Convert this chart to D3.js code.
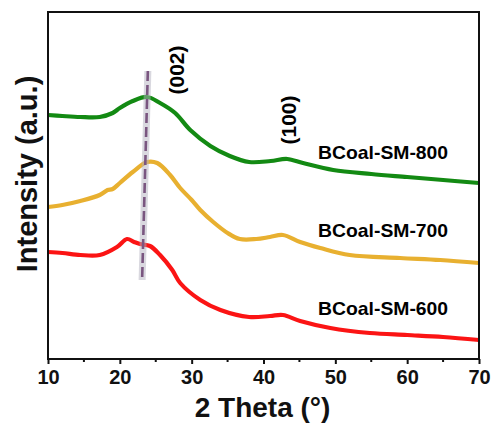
<!DOCTYPE html>
<html>
<head>
<meta charset="utf-8">
<script src="https://cdn.jsdelivr.net/npm/d3@7"></script>
<style>
  body { margin: 0; background: #fff; }
  svg { display: block; font-family: Arial, 'Liberation Sans', sans-serif; }
</style>
</head>
<body>
<svg id="chart" width="493" height="423"></svg>
<script>
// 2 theta positions and intensities (a.u.)
const theta800 = [10, 12, 14.5, 17.2, 19, 20, 21.8, 23.8, 25.6, 27.7, 29.8, 32.6, 35.3, 38, 41, 43.3, 45.5, 49.7, 55, 60, 65, 70]
const int800 = [244, 243, 242, 242, 246, 251, 258, 262, 256, 246, 229, 213, 203, 197, 198, 200, 196, 189, 185, 182, 179, 176]

const theta700 = [10, 12, 14.5, 17.2, 18.3, 19, 20, 21.8, 23.8, 25.2, 27, 28.4, 30, 31.2, 33, 35, 36.7, 39, 40.9, 42.7, 45.1, 47.9, 52, 59, 64.6, 70]
const int700 = [152, 154, 158, 164, 169, 170, 176, 187, 197, 196, 184, 171, 159, 149, 137, 126, 120, 120, 122, 124, 117, 111, 104, 101, 99, 96]

const theta600 = [10, 12, 14.5, 17.2, 19.6, 21, 22, 22.8, 24.2, 25.6, 27.3, 28.4, 31.2, 34, 38, 40.9, 42.7, 45.1, 49.3, 54.8, 60, 65, 70]
const int600 = [107, 106, 104, 104, 112, 120, 117, 115, 113, 104, 89, 76, 59, 49, 42, 43, 44, 38, 31, 26, 24, 22, 19]

const seriesNames = ['BCoal-SM-800', 'BCoal-SM-700', 'BCoal-SM-600']
const seriesColors = ['#138a13', '#e8b030', '#fb1414']
const labelY = [200, 122, 44] // a.u. where the sample labels sit

// (002) guide line ends, and peak labels
const guideTheta = [23.9, 23.1]
const guideInt = [288, 79]
const peakNames = ['(002)', '(100)']
const peakTheta = [27.9, 43.5]
const peakInt = [289, 239]

const xTicks = [10, 20, 30, 40, 50, 60, 70]
const xMinor = [15, 25, 35, 45, 55, 65]

const margin = { top: 12, right: 14, bottom: 64, left: 48 }
const width = 493
const height = 423

const svg = d3.select('#chart')

const x = d3.scaleLinear([10, 70], [margin.left, width - margin.right])
const y = d3.scaleLinear([0, 347], [height - margin.bottom, margin.top])

const series = [
  { name: seriesNames[0], color: seriesColors[0], pts: d3.zip(theta800, int800) },
  { name: seriesNames[1], color: seriesColors[1], pts: d3.zip(theta700, int700) },
  { name: seriesNames[2], color: seriesColors[2], pts: d3.zip(theta600, int600) },
]

const line = d3.line()
  .x((d) => x(d[0]))
  .y((d) => y(d[1]))
  .curve(d3.curveCatmullRom.alpha(0.5))

// curves
svg.append('g')
  .attr('id', 'lines')
  .attr('fill', 'none')
  .selectAll('path')
  .data(series)
  .join('path')
  .attr('d', (d) => line(d.pts))
  .attr('stroke', (d) => d.color)
  .attr('stroke-width', 4.2)
  .attr('stroke-linejoin', 'round')

// guide line: soft grey band + purple dashes
const guide = d3.zip(guideTheta, guideInt)
const straight = d3.line().x((d) => x(d[0])).y((d) => y(d[1]))
svg.append('path')
  .attr('d', straight(guide))
  .attr('stroke', '#b4b2c0')
  .attr('stroke-opacity', 0.5)
  .attr('stroke-width', 7)
svg.append('path')
  .attr('d', straight(guide))
  .attr('stroke', '#7a5680')
  .attr('stroke-width', 2.6)
  .attr('stroke-dasharray', '10,4')

// peak labels
svg.append('g')
  .selectAll('text')
  .data(peakNames)
  .join('text')
  .attr('transform', (d, i) => `translate(${x(peakTheta[i])},${y(peakInt[i])}) rotate(-90)`)
  .attr('text-anchor', 'middle')
  .attr('dominant-baseline', 'central')
  .attr('font-weight', 'bold')
  .attr('font-size', 21)
  .text((d) => d)

// sample labels
svg.append('g')
  .selectAll('text')
  .data(series)
  .join('text')
  .attr('x', x(65.7))
  .attr('y', (d, i) => y(labelY[i]))
  .attr('text-anchor', 'end')
  .attr('font-weight', 'bold')
  .attr('font-size', 19)
  .attr('textLength', 130)
  .attr('lengthAdjust', 'spacingAndGlyphs')
  .text((d) => d.name)

// frame
svg.append('rect')
  .attr('x', margin.left)
  .attr('y', margin.top)
  .attr('width', width - margin.left - margin.right)
  .attr('height', height - margin.top - margin.bottom)
  .attr('fill', 'none')
  .attr('stroke', '#111')
  .attr('stroke-width', 2)

// bottom axis
const xAxis = svg.append('g')
  .attr('transform', `translate(0,${height - margin.bottom})`)
  .call(d3.axisBottom(x).tickValues(xTicks).tickSize(5).tickPadding(6))
xAxis.select('.domain').remove()
xAxis.selectAll('line').attr('stroke', '#111').attr('stroke-width', 2)
xAxis.selectAll('text')
  .attr('font-size', 20)
  .attr('font-weight', 'bold')
  .attr('fill', '#111')
  .attr('font-family', 'Arial, Liberation Sans, sans-serif')

svg.append('g')
  .attr('transform', `translate(0,${height - margin.bottom})`)
  .selectAll('line')
  .data(xMinor)
  .join('line')
  .attr('x1', (d) => x(d))
  .attr('x2', (d) => x(d))
  .attr('y1', 0)
  .attr('y2', 3)
  .attr('stroke', '#111')
  .attr('stroke-width', 2)

// axis titles
svg.append('text')
  .attr('x', (margin.left + width - margin.right) / 2 - 1)
  .attr('y', 417)
  .attr('text-anchor', 'middle')
  .attr('font-weight', 'bold')
  .attr('font-size', 28)
  .attr('fill', '#111')
  .text('2 Theta (°)')

svg.append('text')
  .attr('transform', 'translate(37,174) rotate(-90)')
  .attr('text-anchor', 'middle')
  .attr('font-weight', 'bold')
  .attr('font-size', 29)
  .attr('fill', '#111')
  .text('Intensity (a.u.)')
</script>
</body>
</html>
